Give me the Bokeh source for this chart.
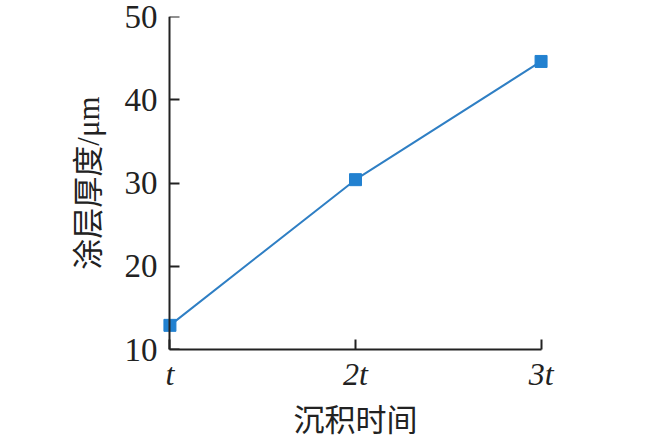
from bokeh.plotting import figure
from bokeh.models import Range1d, FixedTicker, LinearAxis
from bokeh.embed import file_html
from bokeh.resources import INLINE

# data
x_vals = [1, 2, 3]
x_labels = ["t", "2t", "3t"]
thickness = [12.9, 30.4, 44.6]
y_ticks = [10, 20, 30, 40, 50]

pad = 0.04
p = figure(width=653, height=448, output_backend="svg", toolbar_location=None,
           x_range=Range1d(x_vals[0] - pad, x_vals[-1] + pad), y_range=Range1d(10, 50),
           min_border_left=162, min_border_right=105, min_border_top=16, min_border_bottom=99)
p.outline_line_color = None
p.grid.grid_line_color = None
p.background_fill_color = "white"
p.border_fill_color = "white"

p.line(x_vals, thickness, line_color="#2f7fc4", line_width=2)
p.scatter(x_vals, thickness, marker="square", size=12, fill_color="#2281d0", line_color="#2281d0")

serif = "Liberation Serif"
cjk = "Liberation Serif, Noto Sans CJK SC"
ink = "#222222"

xa = p.xaxis[0]
xa.ticker = FixedTicker(ticks=x_vals)
xa.bounds = (x_vals[0], x_vals[-1])
xa.major_label_overrides = {v: l for v, l in zip(x_vals, x_labels)}
xa.major_label_text_font = serif
xa.major_label_text_font_style = "italic"
xa.major_label_text_font_size = "32px"
xa.major_label_text_color = ink
xa.major_tick_in = 10
xa.major_tick_out = 0
xa.minor_tick_line_color = None
xa.axis_line_width = 2
xa.major_tick_line_width = 2
xa.axis_line_color = ink
xa.major_tick_line_color = ink
xa.major_label_standoff = 6
xa.axis_label = "沉积时间"
xa.axis_label_text_font = cjk
xa.axis_label_text_font_style = "normal"
xa.axis_label_text_font_size = "31px"
xa.axis_label_text_color = ink
xa.axis_label_standoff = 8

# labels-only y axis at the frame edge
ya = p.yaxis[0]
ya.ticker = FixedTicker(ticks=y_ticks)
ya.major_label_text_font = serif
ya.major_label_text_font_size = "33px"
ya.major_label_text_color = ink
ya.axis_line_color = None
ya.major_tick_line_color = None
ya.minor_tick_line_color = None
ya.major_tick_in = 0
ya.major_tick_out = 0
ya.major_label_standoff = 5
ya.axis_label = "涂层厚度/μm"
ya.axis_label_text_font = cjk
ya.axis_label_text_font_style = "normal"
ya.axis_label_text_font_size = "31px"
ya.axis_label_text_color = ink
ya.axis_label_standoff = 16

# line-and-ticks y axis placed at x = t
ya2 = LinearAxis(fixed_location=x_vals[0], ticker=FixedTicker(ticks=y_ticks))
ya2.major_label_text_color = None
ya2.major_tick_in = 0
ya2.major_tick_out = 10
ya2.minor_tick_line_color = None
ya2.axis_line_width = 2
ya2.major_tick_line_width = 2
ya2.axis_line_color = ink
ya2.major_tick_line_color = ink
p.add_layout(ya2, "right")

open("out.html", "w").write(file_html(p, INLINE))
